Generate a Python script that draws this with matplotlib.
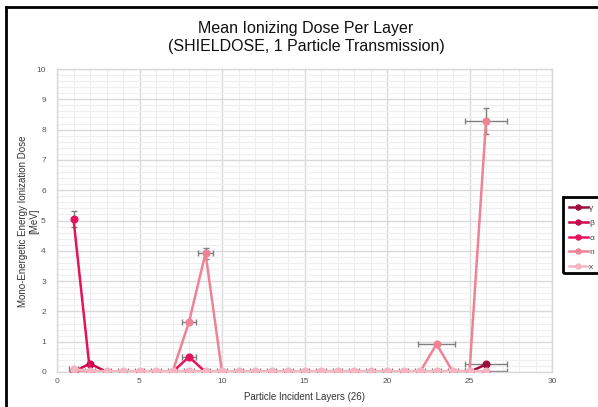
import numpy as np
import matplotlib
matplotlib.use("Agg")
import matplotlib.pyplot as plt
from matplotlib.lines import Line2D
from matplotlib.patches import Rectangle
from matplotlib.ticker import MultipleLocator

plt.rcParams['font.family'] = ['Liberation Sans', 'DejaVu Sans']

# Layer index 1..26
layers = list(range(1, 27))

# Mean ionizing dose per layer [MeV] for each particle type
gamma = [0]*25 + [0.25]
beta = [0, 0.28] + [0]*24
alpha = [5.05] + [0]*6 + [0.5] + [0]*18
neutron = [0]*7 + [1.65, 3.92] + [0]*13 + [0.92] + [0]*2 + [8.27]
xray = [0.1] + [0.03]*25

# Uncertainties
alpha_yerr = [0.25] + [0]*25
alpha_xerr = [0]*7 + [0.4] + [0]*18
neutron_xerr = [0]*7 + [0.4, 0.45] + [0]*13 + [1.15] + [0]*2 + [1.25]
neutron_yerr = [0]*8 + [0.18] + [0]*16 + [0.43]
gamma_xerr = [0]*25 + [1.25]
xray_xerr = [0.3]*25 + [1.25]

series_labels = ['γ', 'β', 'α', 'n', 'x']
colors = ['#9e0b3f', '#c9084e', '#e5125c', '#ef8294', '#f5b5c2']

fig = plt.figure(figsize=(5.98, 4.07), dpi=100)
ax = fig.add_axes([57/598, 1 - 372/407, (552-57)/598, (372-69)/407])

err_kw = dict(ecolor='#808080', elinewidth=1.0, capsize=2, capthick=1.0)

data = [gamma, beta, alpha, neutron, xray]
xerrs = [gamma_xerr, None, alpha_xerr, neutron_xerr, xray_xerr]
yerrs = [None, None, alpha_yerr, neutron_yerr, None]
handles = []
for vals, xe, ye, c, lab in zip(data, xerrs, yerrs, colors, series_labels):
    if xe is not None or ye is not None:
        ax.errorbar(layers, vals, xerr=xe, yerr=ye, fmt='none', zorder=2, **err_kw)
    h, = ax.plot(layers, vals, color=c, lw=1.8, marker='o', ms=4.8,
                 label=lab, zorder=3)
    handles.append(h)

ax.set_xlim(0, 30)
ax.set_ylim(0, 10)
ax.xaxis.set_major_locator(MultipleLocator(5))
ax.xaxis.set_minor_locator(MultipleLocator(1))
ax.yaxis.set_major_locator(MultipleLocator(1))
ax.yaxis.set_minor_locator(MultipleLocator(0.2))
ax.grid(which='major', color='#d9d9d9', lw=1.0)
ax.grid(which='minor', color='#efefef', lw=0.8)
ax.set_axisbelow(True)
ax.tick_params(which='both', length=0, labelsize=6, colors='#555555')
ax.tick_params(axis='y', pad=8)
ax.tick_params(axis='x', pad=4)
for s in ax.spines.values():
    s.set_color('#d9d9d9')
    s.set_linewidth(1.0)

ax.set_xlabel('Particle Incident Layers (26)', fontsize=7, color='#333333', labelpad=5)
fig.text(28.5/598, 1 - 221/407, 'Mono-Energetic Energy Ionization Dose\n[MeV]',
         rotation=90, ha='center', va='center', fontsize=7, color='#333333',
         linespacing=1.2)

fig.text(306/598, 1 - 37/407, 'Mean Ionizing Dose Per Layer\n(SHIELDOSE, 1 Particle Transmission)',
         ha='center', va='center', fontsize=11.5, color='#111111', linespacing=1.25)

leg = fig.legend(handles=handles, loc='upper left', bbox_to_anchor=(561/598, 1 - 196/407),
                 fontsize=6, frameon=False, handlelength=2.2,
                 handletextpad=0.2, borderpad=0.5, labelspacing=0.82, markerscale=0.75)
for t in leg.get_texts():
    t.set_color('#444444')

# legend box, running off the right edge of the figure
fig.add_artist(Rectangle((563/598, 1 - 273/407), 50/598, 76/407, transform=fig.transFigure,
                         fill=False, edgecolor='black', lw=2.0, clip_on=False))

# figure frame lines on the left and top
fig.add_artist(Line2D([5.5/598, 5.5/598], [0, 1 - 7/407], color='black', lw=2.0,
                      transform=fig.transFigure))
fig.add_artist(Line2D([5.5/598, 1], [1 - 7/407, 1 - 7/407], color='black', lw=2.0,
                      transform=fig.transFigure))

fig.savefig('out.png', dpi=100)
